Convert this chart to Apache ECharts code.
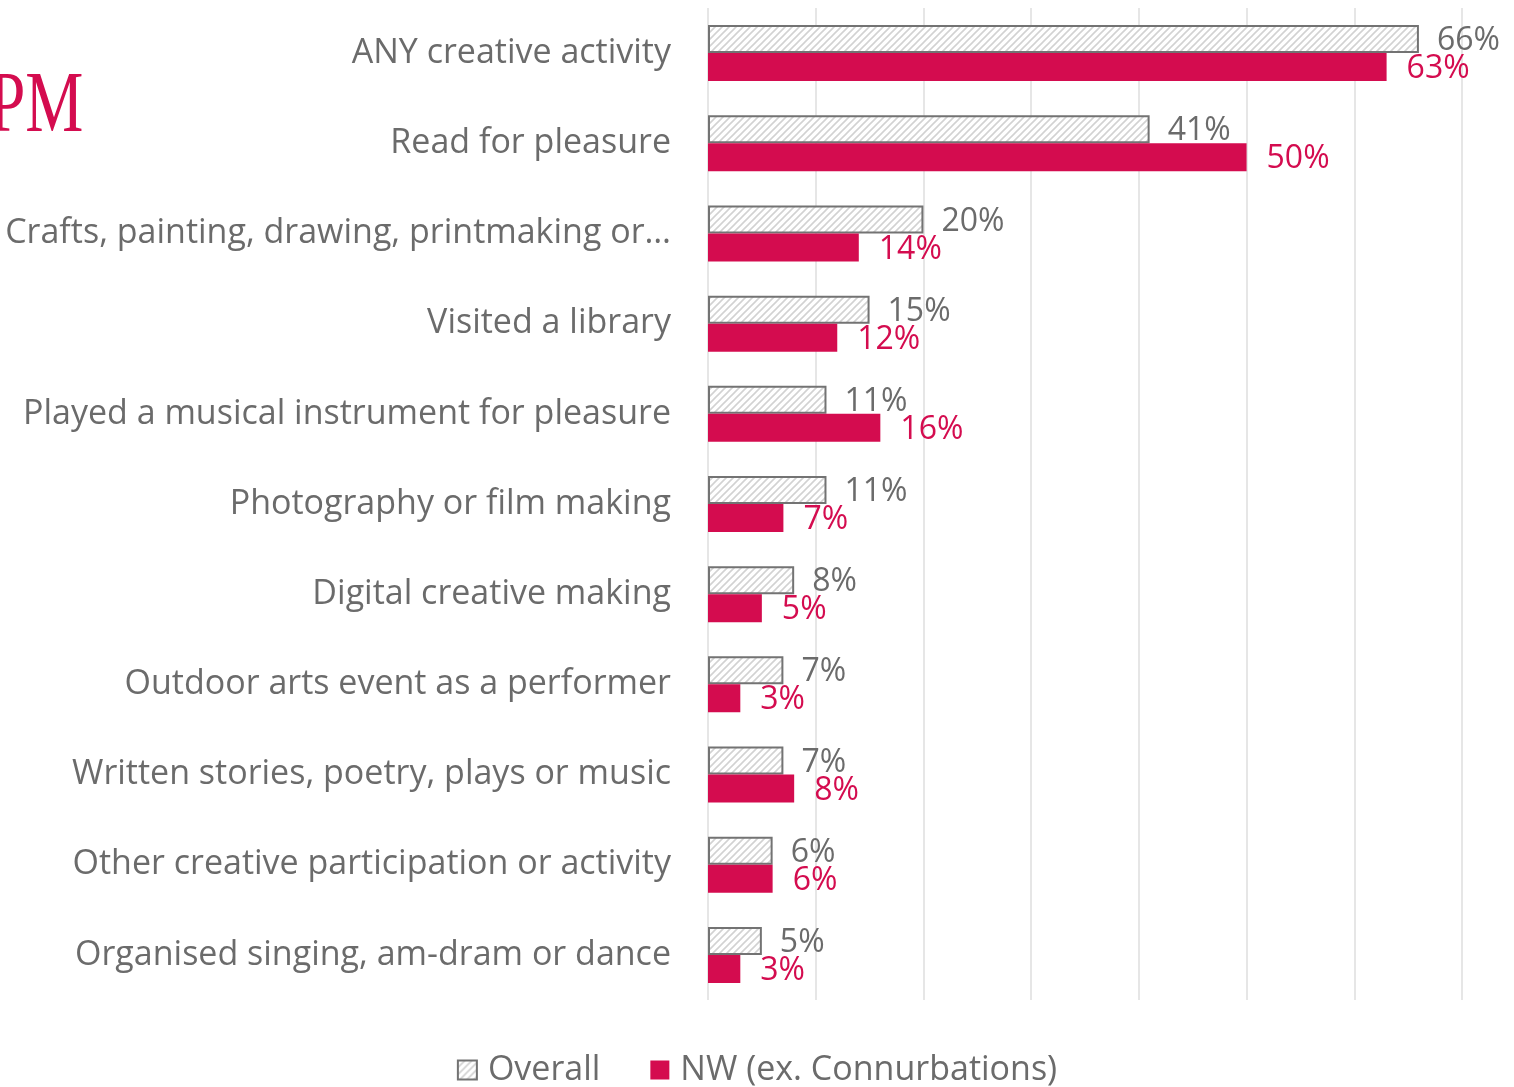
<!DOCTYPE html>
<html>
<head>
<meta charset="utf-8">
<title>Creative participation</title>
<script src="https://cdn.jsdelivr.net/npm/echarts@6/dist/echarts.min.js"></script>
<style>
  html, body { margin: 0; padding: 0; background: #ffffff; }
  #chart { width: 1514px; height: 1087px; }
</style>
</head>
<body>
<div id="chart"></div>
<script>
// Activities, top to bottom
const categories = [
  'ANY creative activity',
  'Read for pleasure',
  'Crafts, painting, drawing, printmaking or…',
  'Visited a library',
  'Played a musical instrument for pleasure',
  'Photography or film making',
  'Digital creative making',
  'Outdoor arts event as a performer',
  'Written stories, poetry, plays or music',
  'Other creative participation or activity',
  'Organised singing, am-dram or dance'
];
// Share of respondents (%)
const overallValues = [66, 41, 20, 15, 11, 11, 8, 7, 7, 6, 5];
const nwValues      = [63, 50, 14, 12, 16, 7, 5, 3, 8, 6, 3];
const seriesNames = ['Overall', 'NW (ex. Connurbations)'];

const CRIMSON = '#d40c4f';
const TEXT_GREY = '#6b6b6b';
const FONT = '"Open Sans"';

// Diagonal hatch fill for the "Overall" bars
function makeHatch() {
  const c = document.createElement('canvas');
  c.width = 7; c.height = 7;
  const g = c.getContext('2d');
  g.fillStyle = '#ffffff';
  g.fillRect(0, 0, 7, 7);
  g.strokeStyle = '#d2d2d2';
  g.lineWidth = 1.6;
  g.beginPath();
  g.moveTo(-2, 9); g.lineTo(9, -2);
  g.moveTo(-2, 2); g.lineTo(2, -2);
  g.moveTo(5, 9); g.lineTo(9, 5);
  g.stroke();
  return c;
}
const hatch = { image: makeHatch(), repeat: 'repeat' };

const chart = echarts.init(document.getElementById('chart'), null, { renderer: 'canvas' });

chart.setOption({
  backgroundColor: '#ffffff',
  animation: false,
  textStyle: { fontFamily: FONT },
  grid: { left: 708, right: 52, top: 8, bottom: 87, containLabel: false },
  xAxis: {
    type: 'value',
    min: 0,
    max: 70,
    interval: 10,
    axisLabel: { show: false },
    axisTick: { show: false },
    axisLine: { show: false },
    splitLine: { show: true, lineStyle: { color: '#e6e6e6', width: 2 } }
  },
  yAxis: {
    type: 'category',
    data: categories,
    inverse: true,
    axisTick: { show: false },
    axisLine: { show: false },
    axisLabel: {
      color: TEXT_GREY,
      fontFamily: FONT,
      fontSize: 34,
      margin: 37
    }
  },
  legend: {
    bottom: -5,
    left: 'center',
    itemWidth: 19,
    itemHeight: 19,
    itemGap: 50,
    icon: 'rect',
    textStyle: { color: TEXT_GREY, fontFamily: FONT, fontSize: 34, padding: [0, 0, 0, 6] },
    data: seriesNames
  },
  series: [
    {
      name: seriesNames[0],
      type: 'bar',
      data: overallValues,
      barWidth: 28,
      barGap: '0%',
      itemStyle: { color: hatch, borderColor: '#737373', borderWidth: 2 },
      label: {
        show: true,
        position: 'right',
        distance: 18,
        offset: [0, 2],
        formatter: '{c}%',
        color: TEXT_GREY,
        fontFamily: FONT,
        fontSize: 32
      }
    },
    {
      name: seriesNames[1],
      type: 'bar',
      data: nwValues,
      barWidth: 28,
      barGap: '0%',
      itemStyle: { color: CRIMSON },
      label: {
        show: true,
        position: 'right',
        distance: 20,
        offset: [0, 2],
        formatter: '{c}%',
        color: CRIMSON,
        fontFamily: FONT,
        fontSize: 32
      }
    }
  ],
  graphic: [
    {
      type: 'text',
      left: -11,
      top: 65,
      scaleX: 0.76,
      style: {
        text: 'PM',
        fill: CRIMSON,
        font: '86px "Liberation Serif", serif'
      }
    }
  ]
});
</script>
</body>
</html>
